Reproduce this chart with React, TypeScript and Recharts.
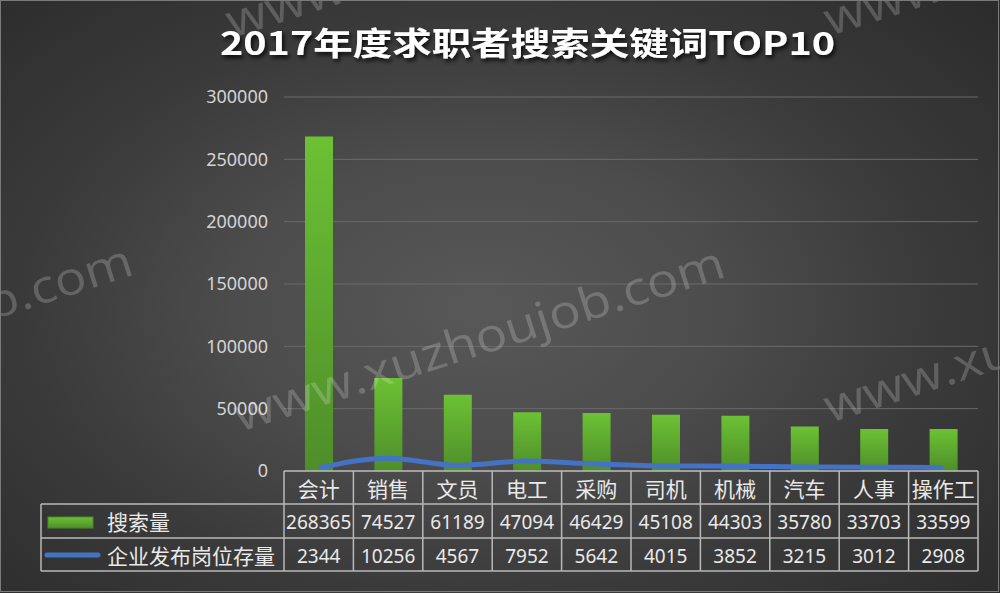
import React from "react";
import {
  ComposedChart,
  Bar,
  Line,
  XAxis,
  YAxis,
  CartesianGrid,
} from "recharts";

const categories = ["会计", "销售", "文员", "电工", "采购", "司机", "机械", "汽车", "人事", "操作工"];
const searchCounts = [268365, 74527, 61189, 47094, 46429, 45108, 44303, 35780, 33703, 33599];
const jobCounts = [2344, 10256, 4567, 7952, 5642, 4015, 3852, 3215, 3012, 2908];
const yTicks = [0, 50000, 100000, 150000, 200000, 250000, 300000];

const seriesNames = { search: "搜索量", jobs: "企业发布岗位存量" };
const title = "2017年度求职者搜索关键词TOP10";
const watermark = "www.xuzhoujob.com";

const data = categories.map((name, i) => ({
  name,
  search: searchCounts[i],
  jobs: jobCounts[i],
}));

const BORDER = "#b9b9b9";
const TEXT = "#e9e9e9";
const FONT = "'Noto Sans', 'Noto Sans CJK SC', sans-serif";

// the data table under the plot, drawn per category tick
function TableTick(props: any) {
  const { x, y, payload } = props;
  const i = payload.index ?? props.index;
  const half = payload.offset;
  const left = x - half;
  const right = x + half;
  const rows = [y + 33, y + 67, y + 100];
  const legendLeft = left - 243;

  return (
    <g>
      <line x1={left} y1={y} x2={left} y2={rows[2]} stroke={BORDER} strokeWidth={1.5} />
      {i === categories.length - 1 && (
        <line x1={right} y1={y} x2={right} y2={rows[2]} stroke={BORDER} strokeWidth={1.5} />
      )}
      {rows.map((ry) => (
        <line key={ry} x1={left} y1={ry} x2={right} y2={ry} stroke={BORDER} strokeWidth={1.5} />
      ))}
      <text x={x} y={y + 18} textAnchor="middle" dominantBaseline="central" fill={TEXT} fontSize={21} fontFamily={FONT}>
        {payload.value}
      </text>
      <text x={x} y={y + 51} textAnchor="middle" dominantBaseline="central" fill={TEXT} fontSize={19} fontFamily={FONT}>
        {searchCounts[i]}
      </text>
      <text x={x} y={y + 85} textAnchor="middle" dominantBaseline="central" fill={TEXT} fontSize={19} fontFamily={FONT}>
        {jobCounts[i]}
      </text>

      {i === 0 && (
        <g>
          <line x1={legendLeft} y1={rows[0]} x2={legendLeft} y2={rows[2]} stroke={BORDER} strokeWidth={1.5} />
          {rows.map((ry) => (
            <line key={"l" + ry} x1={legendLeft} y1={ry} x2={left} y2={ry} stroke={BORDER} strokeWidth={1.5} />
          ))}
          <rect x={legendLeft + 7} y={y + 46} width={45} height={11} fill="url(#barGrad)" stroke="#4a8a28" strokeWidth={1} />
          <line x1={legendLeft + 6} y1={y + 84} x2={legendLeft + 57} y2={y + 84} stroke="#4472c4" strokeWidth={5} strokeLinecap="round" />
          <text x={legendLeft + 66} y={y + 51} dominantBaseline="central" fill={TEXT} fontSize={21} fontFamily={FONT}>
            {seriesNames.search}
          </text>
          <text x={legendLeft + 66} y={y + 85} dominantBaseline="central" fill={TEXT} fontSize={21} fontFamily={FONT}>
            {seriesNames.jobs}
          </text>
        </g>
      )}
    </g>
  );
}

export default function App() {
  const rad = (-17.7 * Math.PI) / 180;
  const marks = [
    [232, 38],
    [830, 36],
    [-352, 430],
    [240, 432],
    [830, 423],
  ];

  return (
    <div
      style={{
        position: "absolute",
        left: 0,
        top: 0,
        width: 1000,
        height: 593,
        background:
          "radial-gradient(ellipse 70% 75% at 48% 52%, #585858 0%, #4c4c4c 35%, #3a3a3a 65%, #2c2c2c 100%)",
        overflow: "hidden",
      }}
    >
      <ComposedChart
        width={1000}
        height={593}
        data={data}
        margin={{ top: 97, right: 22, bottom: 22, left: 0 }}
      >
        <defs>
          <linearGradient id="barGrad" x1="0" y1="0" x2="0" y2="1">
            <stop offset="0%" stopColor="#6cc134" />
            <stop offset="100%" stopColor="#4e8e2a" />
          </linearGradient>
        </defs>
        <CartesianGrid vertical={false} stroke="#6a6a6a" strokeWidth={1} />
        <XAxis
          dataKey="name"
          height={100}
          interval={0}
          tickLine={false}
          tickSize={0}
          tickMargin={0}
          axisLine={{ stroke: BORDER, strokeWidth: 1.5 }}
          tick={<TableTick />}
        />
        <YAxis
          width={284}
          domain={[0, 300000]}
          ticks={yTicks}
          axisLine={false}
          tickLine={false}
          tickSize={0}
          tickMargin={16}
          tick={{ fill: "#d4d4d4", fontSize: 18, fontFamily: FONT }}
        />
        <Bar dataKey="search" fill="url(#barGrad)" barSize={28} isAnimationActive={false} />
        <Line
          type="monotone"
          dataKey="jobs"
          stroke="#4472c4"
          strokeWidth={5}
          dot={false}
          isAnimationActive={false}
        />
      </ComposedChart>

      <svg
        width={1000}
        height={593}
        style={{ position: "absolute", left: 0, top: 0, pointerEvents: "none" }}
      >
        <defs>
          <filter id="titleShadow" x="-10%" y="-30%" width="120%" height="160%">
            <feDropShadow dx="2" dy="3" stdDeviation="2" floodColor="#000" floodOpacity="0.8" />
          </filter>
        </defs>
        <text
          x={220}
          y={55}
          fill="#ffffff"
          fontSize={32}
          fontWeight="bold"
          fontFamily="'Noto Sans CJK SC', sans-serif"
          textLength={615}
          lengthAdjust="spacingAndGlyphs"
          filter="url(#titleShadow)"
        >
          {title}
        </text>
        {marks.map(([mx, my], k) => (
          <text
            key={k}
            x={mx}
            y={my}
            fill="rgba(255,255,255,0.2)"
            fontSize={46}
            fontFamily="'Open Sans', sans-serif"
            textLength={512}
            lengthAdjust="spacingAndGlyphs"
            transform={`rotate(${(rad * 180) / Math.PI} ${mx} ${my})`}
          >
            {watermark}
          </text>
        ))}
        <rect x={0.5} y={0.5} width={998} height={591} fill="none" stroke="#7a7a7a" strokeWidth={1} />
      </svg>
    </div>
  );
}
